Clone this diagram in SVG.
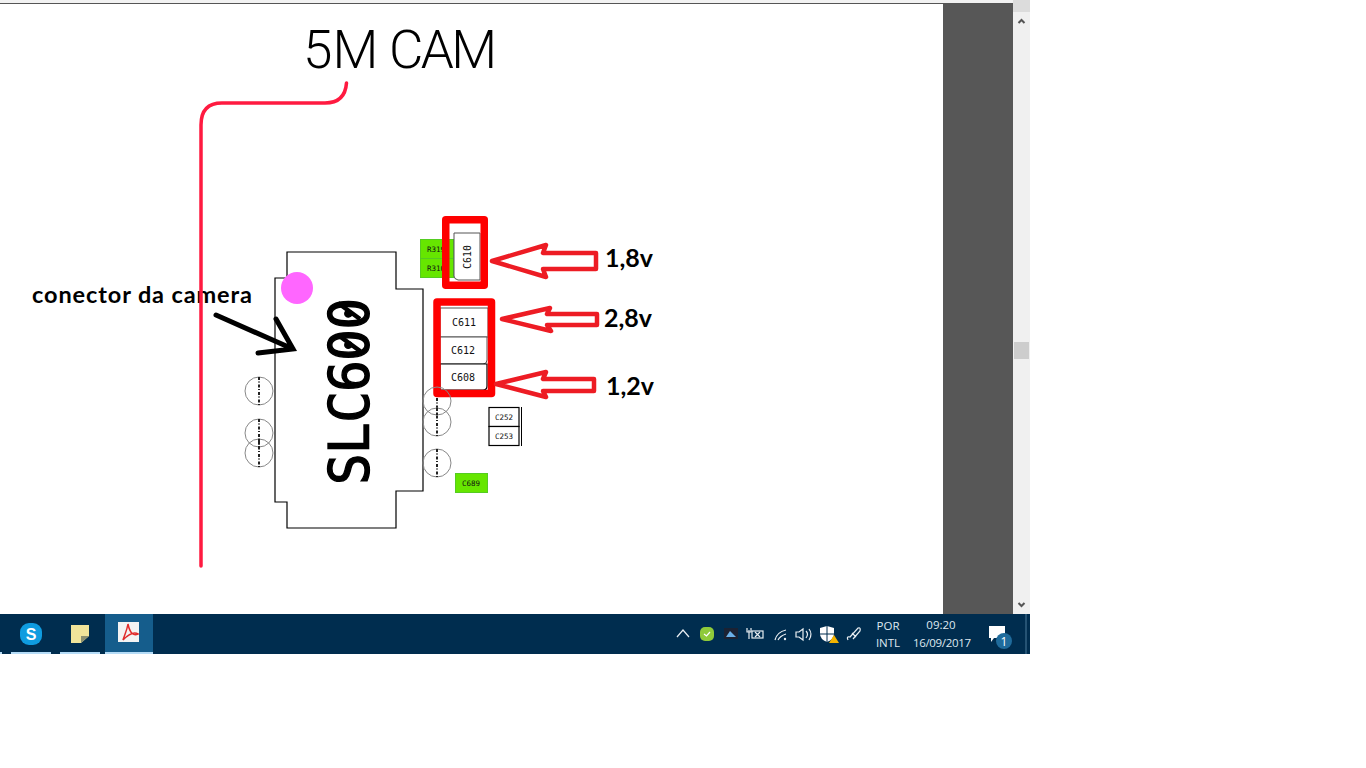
<svg xmlns="http://www.w3.org/2000/svg" width="1366" height="768" viewBox="0 0 1366 768">
<style>
.lbl{font-family:"Lato","Liberation Sans",sans-serif;font-weight:700;fill:#000}
.big{font-size:25px}
.part{font-family:"DejaVu Sans Mono","Liberation Mono",monospace;font-size:10px;fill:#111;text-anchor:middle}
.tiny{font-size:7.5px}
.box{fill:#fff;stroke:#555;stroke-width:1}
.bk{fill:#fff;stroke:#000;stroke-width:1.2}
.green{fill:#66e600;stroke:#55cc22;stroke-width:1}
.hi{fill:none;stroke:#fe0000;stroke-width:7.5;stroke-linejoin:round}
.ra{fill:#fff;stroke:#ed1c24;stroke-width:4.5;stroke-linejoin:round}
.pad{fill:none;stroke:#888;stroke-width:1}
.padl{stroke:#222;stroke-width:2;stroke-dasharray:3 1.5 1 2}
.tray{font-family:"Open Sans","Noto Sans",sans-serif;font-size:11.5px;fill:#dfe8ef;text-anchor:middle}
.trs{fill:none;stroke:#e8eef2;stroke-width:1.2}
</style>
<rect width="1366" height="768" fill="#fff"/>
<g id="viewer">
<rect x="0" y="0" width="1013" height="3" fill="#f2f2f2"/>
<rect x="0" y="3" width="1013" height="1" fill="#555"/>
<rect x="943" y="4" width="70" height="610" fill="#575757"/>
<rect x="1013" y="0" width="17" height="614" fill="#f0f0f0"/>
<rect x="1013" y="0" width="17" height="12" fill="#dcdcdc"/>
<rect x="1014" y="342" width="15" height="17" fill="#cdcdcd"/>
<path d="M1018.500 23L1021.500 20L1024.500 23M1018.500 603L1021.500 606L1024.500 603" fill="none" stroke="#555" stroke-width="2"/>
</g>
<g id="title"><text x="303" y="68" font-family="Roboto,'Liberation Sans',sans-serif" font-weight="300" font-size="53" fill="#000"><tspan>5M</tspan><tspan x="389"> </tspan><tspan x="389" textLength="108">CAM</tspan></text></g>
<g id="label-conector"><text class="lbl" x="32" y="303" font-size="23.500" textLength="220">conector da camera</text></g>
<g id="SLC600">
<path d="M287 252H396V289H423V491H396V528H287V502H275V278H287Z" fill="#fff" stroke="#000" stroke-width="1.200"/>
<text transform="translate(368,485)rotate(-90)scale(1,1.060)" font-family="'DejaVu Sans Mono',monospace" font-size="52.500" textLength="187" stroke="#000" stroke-width="1.300" fill="#000">SLC600</text>
<path d="M338 303L360 319M338 335L360 351" stroke="#000" stroke-width="4.500" fill="none"/>
</g>
<g id="dot"><circle cx="297" cy="288" r="16" fill="#ff66ff"/></g>
<g id="R319"><rect class="green" x="420.500" y="239.500" width="33" height="19"/><text class="part tiny" x="436" y="252">R319</text></g>
<g id="R310"><rect class="green" x="420.500" y="258.500" width="33" height="19"/><text class="part tiny" x="436" y="271">R310</text></g>
<g id="C610"><path class="box" d="M454 233H480V280H458Q454 279 454 276Z"/><text class="part" transform="translate(470.500,257)rotate(-90)">C610</text></g>
<g id="C611"><rect class="box" x="440" y="308" width="48" height="29"/><text class="part" x="464" y="326">C611</text></g>
<g id="C612"><path class="box" d="M440 337H487V360Q487 364 483 364H440Z"/><text class="part" x="463" y="354">C612</text></g>
<g id="C608"><path class="bk" d="M440 364H487V386Q487 390 483 390H440Z"/><text class="part" x="463" y="381">C608</text></g>
<g id="highlight-1"><rect class="hi" x="445.750" y="219.750" width="38.500" height="65.500"/></g>
<g id="highlight-2"><rect class="hi" x="437" y="302" width="54.500" height="91.500"/></g>
<g id="arrow-18"><path class="ra" d="M492 261L546 245L543 253H596V269H543L546 277Z"/></g>
<g id="arrow-28"><path class="ra" d="M502 319L550 308L547 314H597V325H547L551 331Z"/></g>
<g id="arrow-12"><path class="ra" d="M496 384L546 372L543 379H594V391H543L546 397Z"/></g>
<g id="v18"><text class="lbl big" x="605" y="267">1,8v</text></g>
<g id="v28"><text class="lbl big" x="604" y="327">2,8v</text></g>
<g id="v12"><text class="lbl big" x="606" y="395">1,2v</text></g>
<g id="pads">
<g><circle class="pad" cx="259" cy="391" r="14"/><path class="padl" d="M259 377V405"/></g>
<g><circle class="pad" cx="259" cy="433" r="14"/><path class="padl" d="M259 419V447"/></g>
<g><circle class="pad" cx="259" cy="453" r="14"/><path class="padl" d="M259 439V467"/></g>
<g><circle class="pad" cx="437" cy="401" r="14"/><path class="padl" d="M437 398V415"/></g>
<g><circle class="pad" cx="437" cy="422" r="14"/><path class="padl" d="M437 408V436"/></g>
<g><circle class="pad" cx="437" cy="463" r="14"/><path class="padl" d="M437 449V477"/></g>
</g>
<g id="C252"><rect class="bk" x="489" y="407.500" width="30" height="19"/><text class="part tiny" x="504" y="420">C252</text></g>
<g id="C253"><rect class="bk" x="489" y="426.500" width="30" height="19"/><text class="part tiny" x="504" y="439">C253</text></g>
<path d="M521.500 407V446" stroke="#000" stroke-width="1"/>
<g id="C689"><rect class="green" x="455.500" y="473.500" width="32" height="19"/><text class="part tiny" x="471" y="486">C689</text></g>
<g id="connectors">
<path d="M346.500 83Q345 103 325 103L222 103Q201 103 201 125L201 566" fill="none" stroke="#ff1a40" stroke-width="3.500" stroke-linecap="round"/>
<path d="M216 315L293 349M276 319L293 349L258 353" fill="none" stroke="#000" stroke-width="5" stroke-linecap="round" stroke-linejoin="miter"/>
</g>
<g id="taskbar">
<rect x="0" y="614" width="1030" height="40" fill="#002d4f"/>
<rect x="105" y="614" width="48" height="40" fill="#155d8c"/>
<rect x="11" y="652" width="40" height="2" fill="#b5dcf7"/>
<rect x="60" y="652" width="40" height="2" fill="#b5dcf7"/>
<rect x="105" y="652" width="48" height="2" fill="#b5dcf7"/>
<rect x="0" y="652" width="2" height="2" fill="#b5dcf7"/>
<rect x="20" y="623" width="22" height="22" rx="9" fill="#0f9ce0"/>
<text x="31" y="640" font-family="'Liberation Sans',sans-serif" font-weight="700" font-size="16" fill="#fff" text-anchor="middle">S</text>
<path d="M71 625H89V636L81 643H71Z" fill="#f0e49a"/><path d="M89 636L81 643V636Z" fill="#8a8f70"/>
<rect x="118" y="622" width="21" height="20" fill="#f3f3f3"/>
<path d="M128 624C130 634 134 636 138 634C133 631 127 636 123 640C125 634 127 630 128 624Z" fill="none" stroke="#e02b2b" stroke-width="1.500"/>
<path d="M677 637L683 630L689 637" class="trs" stroke-width="1.500"/>
<rect x="700" y="627" width="14" height="14" rx="5" fill="#8fca3a"/><path d="M704 634L706.500 636L710 632" fill="none" stroke="#fff" stroke-width="1.200"/>
<rect x="724" y="628" width="14" height="11" fill="#1b2233"/><path d="M726 637L730 631L736 637Z" fill="#6ab0e8"/>
<path d="M749 630V639M747 628V632H751V628" class="trs"/><rect x="752" y="631" width="11" height="7" class="trs"/><path d="M755 632L760 637M760 632L755 637" class="trs"/>
<path d="M775 640Q777 632 786 630M778 640Q780 636 786 634" class="trs"/><circle cx="785" cy="639" r="1.200" fill="#e8eef2"/>
<path d="M796 632H799L803 629V640L799 637H796Z M806 631Q809 634 806 638M809 629Q813 634 809 640" class="trs"/>
<path d="M820 628L827 626L834 628V634Q834 639 827 642Q820 639 820 634Z" fill="#fff"/><path d="M827 626V642M820 634H834" stroke="#002d4f" stroke-width="1"/>
<path d="M829 643L834 635L839 643Z" fill="#f4b400"/>
<path d="M848 640Q846 636 850 637L858 628Q861 627 860 631L853 639M852 633L856 637" class="trs"/>
<text class="tray" x="888" y="630">POR</text>
<text class="tray" x="888" y="647">INTL</text>
<text class="tray" x="941" y="629">09:20</text>
<text class="tray" x="942" y="647" textLength="58">16/09/2017</text>
<path d="M989 626H1005V638H994L991 642V638H989Z" fill="#fff"/>
<circle cx="1004" cy="641" r="8" fill="#1f6b9c"/>
<text x="1004" y="646" font-family="'Open Sans',sans-serif" font-size="12" fill="#fff" text-anchor="middle">1</text>
<path d="M1026 614V654" stroke="#4a7a9a" stroke-width="1"/>
</g>
</svg>
